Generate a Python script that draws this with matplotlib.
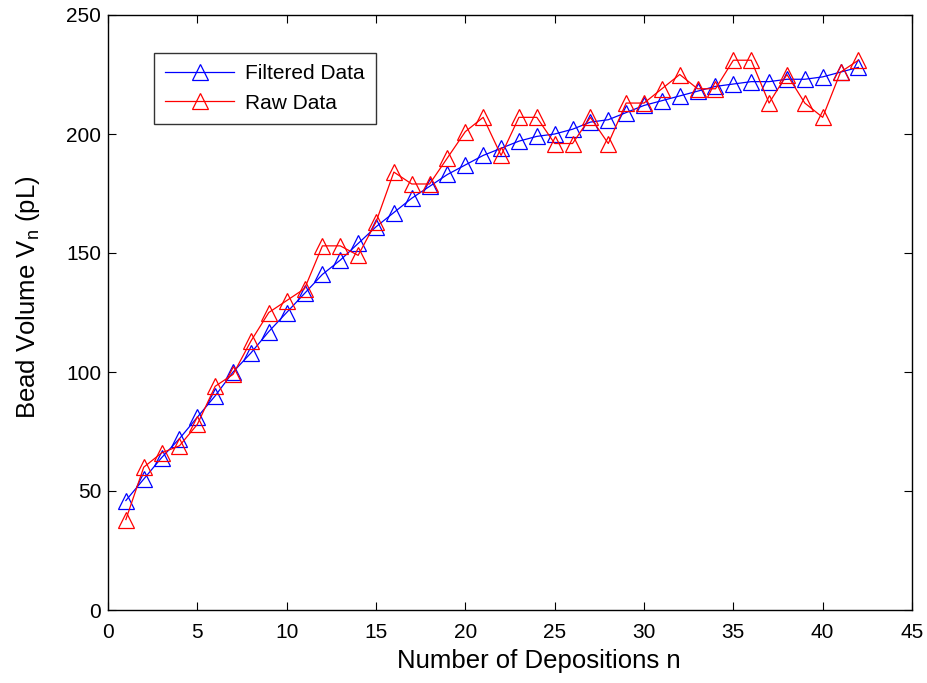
import matplotlib
matplotlib.use("Agg")
import matplotlib.pyplot as plt

n = list(range(1, 43))
filtered = [46, 55, 64, 72, 81, 90, 100, 108, 117, 125,
            133, 141, 147, 154, 161, 167, 173, 178, 183, 187,
            191, 194, 197, 199, 200, 202, 205, 206, 209, 212,
            214, 216, 218, 220, 221, 222, 222, 223, 223, 224,
            226, 228]
raw = [38, 60, 66, 69, 78, 94, 99, 113, 125, 130,
       135, 153, 153, 149, 163, 184, 179, 179, 190, 201,
       207, 191, 207, 207, 196, 196, 207, 196, 213, 213,
       219, 225, 219, 219, 231, 231, 213, 225, 213, 207,
       226, 231]
xticks = list(range(0, 46, 5))
yticks = list(range(0, 251, 50))

plt.rcParams['font.family'] = ['Liberation Sans', 'DejaVu Sans']

fig = plt.figure(figsize=(9.27, 6.83), dpi=100)
ax = fig.add_axes([108/927, 1-610/683, (912-108)/927, (610-15)/683])

ax.plot(n, filtered, color='blue', marker='^', markersize=11, markerfacecolor='none',
        markeredgecolor='blue', linewidth=0.9, markeredgewidth=0.9, label='Filtered Data')
ax.plot(n, raw, color='red', marker='^', markersize=11, markerfacecolor='none',
        markeredgecolor='red', linewidth=0.9, markeredgewidth=0.9, label='Raw Data')

ax.set_xlim(0, 45)
ax.set_ylim(0, 250)
ax.set_xticks(xticks)
ax.set_yticks(yticks)
ax.tick_params(direction='in', top=True, right=True, labelsize=15, length=6, width=0.8)
ax.tick_params(axis='x', pad=9)
ax.tick_params(axis='y', pad=5)
for s in ax.spines.values():
    s.set_linewidth(1.0)

ax.set_xlabel('Number of Depositions n', fontsize=18.5)
ax.set_ylabel(r'Bead Volume V$_\mathregular{n}$ (pL)', fontsize=18.5)
ax.xaxis.set_label_coords(0.536, -0.066)
ax.yaxis.set_label_coords(-0.082, 0.526)

leg = ax.legend(loc='upper left', bbox_to_anchor=(0.0572, 0.9366), borderaxespad=0,
                fontsize=15, frameon=True, fancybox=False, edgecolor='black',
                handlelength=3.3, handletextpad=0.5, borderpad=0.55,
                labelspacing=0.5)
leg.get_frame().set_linewidth(1.0)

fig.savefig('out.png', dpi=100)
